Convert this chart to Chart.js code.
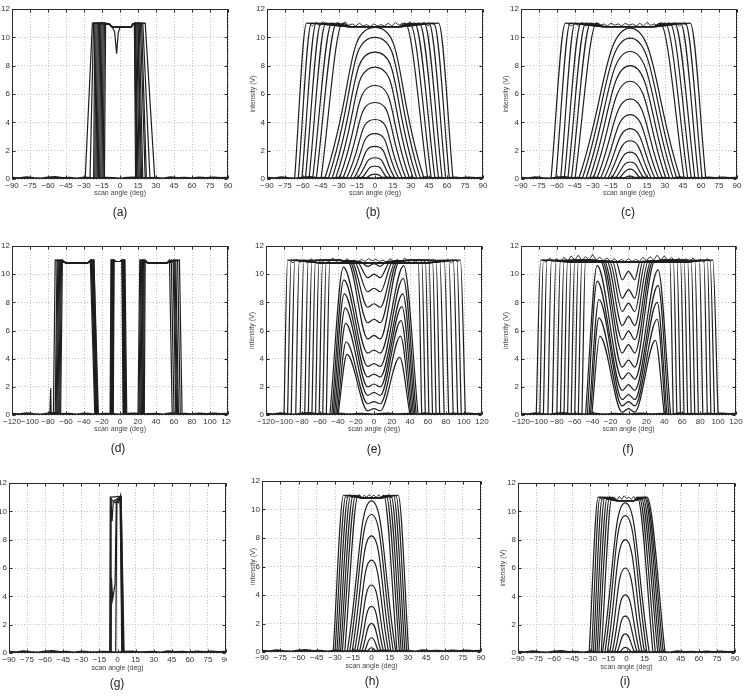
<!DOCTYPE html>
<html><head><meta charset="utf-8">
<script src="https://cdn.jsdelivr.net/npm/chart.js@4/dist/chart.umd.min.js"></script>
<style>
html,body{margin:0;padding:0;background:#fff}
body{width:744px;height:699px;overflow:hidden;position:relative;font-family:"Liberation Sans",Arial,sans-serif}
canvas{position:absolute}
.lbl{position:absolute;font-size:12px;color:#222;transform:translate(-50%,-50%);white-space:nowrap;will-change:transform;-webkit-font-smoothing:antialiased;background:#fff}
</style></head><body>
<script>
// ---------- data ----------
const SAT = 11; // saturation level (V)
const base90X  = [-90,-84,-78,-72,-66,-60,-54,-48,-42,-36,-30,-24,-18,-12,-6,0,6,12,18,24,30,36,42,48,54,60,66,72,78,84,90];
const base120X = [-120,-112,-104,-96,-88,-80,-72,-64,-56,-48,-40,-32,-24,-16,-8,0,8,16,24,32,40,48,56,64,72,80,88,96,104,112,120];
const baseY    = [0.1,0.06,0.13,0.08,0.05,0.11,0.15,0.07,0.09,0.05,0.12,0.08,0.06,0.1,0.07,0.05,0.09,0.12,0.06,0.08,0.1,0.05,0.13,0.07,0.09,0.06,0.11,0.08,0.12,0.07,0.1];

// (a)
const aFootL = [-29,-25,-22,-21,-20,-19,-18,-17,-16,-15,-14,-13];
const aTopL  = [-23,-22,-21,-20,-19,-18,-17,-16,-15,-14,-13,-12];
const aTopR  = [21,19,18,17,16,15,15,14,13,13,12,12];
const aFootR = [29,25,22,21,19,18,17,16,15,14,14,13];
const aPlatX = [-9,-6,9,11];
const aPlatY = [10.95,10.7,10.7,10.95];
const aDipX  = [-7,-4.5,-2.8,-1.5,0];
const aDipY  = [10.8,10.4,8.85,10.3,10.7];

// (b)
const bDomePeak  = [0.35,0.9,1.5,2.3,3.2,4.2,5.4,6.6,7.9,8.95,10.0,10.7];
const bDomeFootL = [-9,-12,-15,-18,-21,-24,-27,-30,-33,-36,-39,-42];
const bDomeFootR = [8,11,14,17,20,23,26,29,32,35,38,41];
const bPeakX = 0;
const bFlatFootL   = [-45,-49,-52,-55,-58,-61,-64,-67];
const bFlatCornerL = [-27,-32,-36,-41,-45,-49,-53,-57];
const bFlatCornerR = [25,29,33,37,41,45,49,53];
const bFlatFootR   = [44,47,50,53,56,59,62,65];
const bPlatX = [-20,20], bPlatY = [10.75,10.75];
const bTopX = [-55,-52,-49,-46,-43,-40,-37,-34,-31,-28,-25,-22,-19,-16,-13,-10,-7,-4,-1,2,5,8,11,14,17,20,23,26,29,32,35,38,41,44,47,50];
const bTopY = [11.0,10.8,11.05,10.8,11.1,10.85,11.0,10.8,11.05,10.8,11.1,10.85,10.95,10.8,11.0,10.8,10.9,10.75,10.95,10.8,10.9,10.8,11.0,10.8,11.05,10.85,11.0,10.8,11.1,10.8,11.0,10.85,11.05,10.8,11.0,10.85];

// (c)
const cDomePeak  = [0.2,0.7,1.2,1.9,2.7,3.55,4.55,5.65,6.9,8.0,9.0,9.95,10.65];
const cDomeFootL = [-6,-9,-12,-15,-18,-21,-24,-27,-30,-33,-36,-39,-42];
const cDomeFootR = [7,10,13,16,19,22,25,28,31,34,37,40,43];
const cPeakX = 1;
const cFlatFootL   = [-45,-48,-51,-54,-57,-61,-65];
const cFlatCornerL = [-27,-32,-36,-40,-45,-49,-53];
const cFlatCornerR = [26,30,34,38,43,47,51];
const cFlatFootR   = [46,49,52,55,58,61,64];
const cPlatX = [-20,20], cPlatY = [10.75,10.75];
const cTopX = [-51,-48,-45,-42,-39,-36,-33,-30,-27,-24,-21,-18,-15,-12,-9,-6,-3,0,3,6,9,12,15,18,21,24,27,30,33,36,39,42,45,48];
const cTopY = [10.95,10.8,11.0,10.8,11.05,10.8,11.0,10.85,11.05,10.8,10.95,10.8,11.0,10.85,10.95,10.8,11.0,10.85,10.95,10.8,11.0,10.8,11.05,10.85,10.95,10.8,11.05,10.8,11.0,10.85,11.05,10.8,11.0,10.85];

// (d)
const dP1FootL = [-74,-72,-71,-70,-69,-68,-67,-66];
const dP1TopL  = [-72,-70,-69,-68,-67,-66,-65,-64];
const dP1TopR  = [-33,-32,-32,-31,-30,-30,-29,-29];
const dP1FootR = [-28,-27,-27,-26,-26,-25,-25,-24];
const dP2FootL = [-11,-10.5,-10,-9.5,-9,-8.5,-8,-7.5];
const dP2TopL  = [-10,-9.5,-9,-8.5,-8,-7.5,-7,-6.5];
const dP2TopR  = [2,2.5,3,3.5,4,4.5,5,5.5];
const dP2FootR = [3.5,4,4.5,5,5.5,6,6.5,7.5];
const dP3FootL = [20,21,22,23,24,25,26,27];
const dP3TopL  = [22,23,24,25,25.5,26,27,28];
const dP3TopR  = [55,57,59,60,61,62,64,66];
const dP3FootR = [58,60,62,63,64,65,67,69];
const dPlat1X = [-60,-36], dPlat1Y = [10.8,10.8];
const dPlat2X = [-5,0],    dPlat2Y = [10.9,10.9];
const dPlat3X = [31,52],   dPlat3Y = [10.8,10.8];
const dSpikeX = [-78,-77,-76.5], dSpikeY = [0,1.9,0];

// (e)
const eValleyX = 7, eInnerY = 10.9;
const eMFootL  = [-40,-41,-42.5,-44,-45.5,-47,-49];
const eMPeakXL = [-30,-31,-31.5,-32,-33,-33.5,-34];
const eMPeakYL = [4.3,5.2,6.5,7.6,8.6,9.6,10.5];
const eMValley = [0.3,0.8,1.4,2.0,2.7,3.45,4.4];
const eMBump   = [0.45,0.95,1.6,2.2,2.9,3.65,4.6];
const eMPeakXR = [28.5,29.5,30,31,32,32.5,33];
const eMPeakYR = [4.1,5.6,6.7,7.7,8.6,9.7,10.6];
const eMFootR  = [40,41,42.5,44,45.5,47,49];
const eSFootL   = [-53,-57,-61,-65,-69,-73];
const eSCornerL = [-49,-53,-57,-61,-65,-69];
const eSInnerL  = [-29,-27,-25,-22,-19,-15];
const eSValley  = [5.4,6.55,7.65,8.75,9.75,10.55];
const eSBump    = [5.65,6.8,7.9,9.0,10.0,10.75];
const eSInnerR  = [28,26,24,21,18,14];
const eSCornerR = [49,53,57,61,65,69];
const eSFootR   = [53,57,61,65,69,73];
const eFFootL   = [-77,-82,-87,-92,-96,-100];
const eFCornerL = [-73,-78,-83,-88,-92,-96];
const eFCornerR = [73,78,83,88,92,96];
const eFFootR   = [78,83,88,93,97,101.5];
const ePlatX = [-60,60], ePlatY = [10.8,10.8];
const eTopX = [-94,-90,-86,-82,-78,-74,-70,-66,-62,-58,-54,-50,-46,-42,-38,-34,-30,-26,-22,-18,-14,-10,-6,-2,2,6,10,14,18,22,26,30,34,38,42,46,50,54,58,62,66,70,74,78,82,86,90,94];
const eTopY = [11.0,10.8,11.05,10.85,11.0,10.8,11.1,10.85,11.0,10.8,11.05,10.85,11.15,10.9,11.05,10.85,11.1,10.9,11.0,10.85,11.05,10.9,11.1,10.95,11.05,10.9,11.0,10.85,11.1,10.9,11.05,10.85,11.15,10.9,11.0,10.85,11.05,10.8,11.0,10.85,11.05,10.8,11.0,10.85,11.05,10.8,11.0,10.85];

// (f)
const fValleyX = 7, fInnerY = 10.9;
const fMFootL  = [-41,-42.5,-44,-46,-48];
const fMPeakXL = [-32,-33,-33,-35,-35];
const fMPeakYL = [5.6,6.9,8.2,9.5,10.6];
const fMValley = [0.2,0.65,1.1,1.75,2.55];
const fMBump   = [0.45,0.95,1.45,2.15,3.0];
const fMPeakXR = [30,32,32,33,33];
const fMPeakYR = [5.3,6.8,8.0,9.2,10.3];
const fMFootR  = [40,41.5,43,45,47];
const fSFootL   = [-52,-56,-60,-64,-68,-72,-76];
const fSCornerL = [-48,-52,-56,-60,-64,-68,-72];
const fSInnerL  = [-31,-29,-27,-24,-21,-18,-14];
const fSValley  = [3.4,4.4,5.35,6.35,7.35,8.3,9.6];
const fSBump    = [3.9,5.0,5.95,7.0,7.95,8.9,10.2];
const fSInnerR  = [29,27,25,22,19,16,13];
const fSCornerR = [46,50,54,58,62,66,70];
const fSFootR   = [50,54,58,62,66,70,74];
const fFFootL   = [-80,-85,-90,-95,-99,-103];
const fFCornerL = [-76,-81,-86,-91,-95,-98];
const fFCornerR = [74,79,84,88,91,94];
const fFFootR   = [78,83,88,92,96,100];
const fPlatX = [-60,60], fPlatY = [10.85,10.85];
const fTopX = [-96,-92,-88,-84,-80,-76,-72,-68,-64,-60,-56,-52,-48,-44,-40,-36,-32,-28,-24,-20,-16,-12,-8,-4,0,4,8,12,16,20,24,28,32,36,40,44,48,52,56,60,64,68,72,76,80,84,88,92];
const fTopY = [11.05,10.85,11.15,10.9,11.1,10.85,11.2,10.9,11.3,11.0,11.35,10.95,11.25,11.0,11.4,11.0,11.2,10.95,11.15,10.9,11.1,10.9,11.05,10.9,11.1,10.9,11.05,10.9,11.2,10.95,11.25,11.0,11.35,11.0,11.3,10.95,11.2,10.9,11.15,10.9,11.1,10.85,11.15,10.9,11.05,10.85,11.1,10.85];

// (g)
const g1X = [-6.5,-6,3,5],                 g1Y = [0,11,11.05,0];
const g2X = [-6,-5.5,-4.5,-3.5,2,4],        g2Y = [0,11,9.3,10.7,11,0];
const g3X = [-5.5,-5,-4,-2,-1,1,2.5,3.5],   g3Y = [0,5.3,3.8,4.9,10.7,10.6,11.1,0];
const g4X = [-1.5,-0.5,2.5,4.5],           g4Y = [0,10.8,11,0];
const g5X = [-6,-5.5,-2,0,3,5.5],           g5Y = [0,10.9,10.6,10.7,11,0];

// (h)
const hDomePeak  = [0.3,1.0,2.0,3.2,4.7,6.45,8.15,9.65,10.6];
const hDomeFootL = [-4,-6,-8,-10,-12,-14,-16,-18,-20];
const hDomeFootR = [4,6,8,10,12,14,16,18,20];
const hPeakX = 0;
const hFlatFootL   = [-22,-24,-25.5,-27,-28.5,-30,-31.5];
const hFlatCornerL = [-11,-13,-15,-17,-19,-21,-23];
const hFlatCornerR = [10,12,14,16,18,20,22];
const hFlatFootR   = [21,23,24.5,26,27.5,29,30.5];
const hPlatX = [-7,7], hPlatY = [10.8,10.8];
const hTopX = [-22,-20,-18,-16,-14,-12,-10,-8,-6,-4,-2,0,2,4,6,8,10,12,14,16,18,20];
const hTopY = [11.0,10.8,11.05,10.8,11.0,10.85,11.05,10.8,11.0,10.85,11.05,10.9,11.0,10.85,11.05,10.8,11.0,10.8,11.05,10.8,11.0,10.85];

// (i)
const iDomePeak  = [0.12,0.4,1.35,2.6,4.1,6.0,8.0,9.7,10.6];
const iDomeFootL = [-4,-6,-8,-10,-12,-14,-16,-18,-20];
const iDomeFootR = [3,5,7,9,11,13,15,17,19];
const iPeakX = -1;
const iFlatFootL   = [-21,-23,-24.5,-26,-27.5,-29,-31];
const iFlatCornerL = [-12,-14,-16,-18,-20,-22,-23.5];
const iFlatCornerR = [9,10.5,12,13.5,15,16,17];
const iFlatFootR   = [22,24,26,27.5,29,30.5,32];
const iPlatX = [-8,6], iPlatY = [10.75,10.75];
const iTopX = [-22,-20,-18,-16,-14,-12,-10,-8,-6,-4,-2,0,2,4,6,8,10,12,14,16];
const iTopY = [10.95,10.8,11.0,10.8,11.05,10.85,11.0,10.8,11.05,10.85,11.1,10.9,11.0,10.85,11.05,10.8,11.0,10.8,11.0,10.85];

// ---------- builders ----------
const LINE = '#1e1e1e';
function ds(data, mode, tension, w){
  return {data:data, borderColor:LINE, borderWidth:w||1.2, pointRadius:0, fill:false,
          cubicInterpolationMode:mode||'default', tension:tension||0};
}
function P(xs, ys){ return xs.map((x,i)=>({x:x, y:ys[i]})); }
function baseline(xs){ return ds(P(xs, baseY), 'default', 0, 1.8); }
function noise(xs, ys){ return ds(P(xs, ys), 'default', 0, 0.9); }
function domeSet(fl, fr, peaks, px, t){
  return peaks.map((h,i)=>ds([{x:fl[i],y:0},{x:px,y:h},{x:fr[i],y:0}], 'default', t));
}
function flatPts(fl, cl, cr, fr, platX, platY){
  const p=[{x:fl,y:0},{x:cl,y:SAT}];
  platX.forEach((x,j)=>{ if(x>cl && x<cr) p.push({x:x,y:platY[j]}); });
  p.push({x:cr,y:SAT},{x:fr,y:0});
  return p;
}
function flatSet(fl, cl, cr, fr, platX, platY, mode){
  return fl.map((f,i)=>ds(flatPts(f,cl[i],cr[i],fr[i],platX,platY), mode, 0));
}
function mSet(fl,pxl,pyl,val,bump,pxr,pyr,fr,vx){
  return fl.map((f,i)=>ds([{x:f,y:0},{x:pxl[i],y:pyl[i]},{x:-vx,y:val[i]},{x:0,y:bump[i]},
    {x:vx,y:val[i]},{x:pxr[i],y:pyr[i]},{x:fr[i],y:0}], 'monotone'));
}
function sSet(fl,cl,il,val,bump,ir,cr,fr,vx,iy){
  return fl.map((f,i)=>ds([{x:f,y:0},{x:cl[i],y:SAT},{x:il[i],y:iy},{x:-vx,y:val[i]},{x:0,y:bump[i]},
    {x:vx,y:val[i]},{x:ir[i],y:iy},{x:cr[i],y:SAT},{x:fr[i],y:0}], 'monotone'));
}

const dataA = [baseline(base90X)]
  .concat(flatSet(aFootL,aTopL,aTopR,aFootR,aPlatX,aPlatY,'default'))
  .concat([ds(P(aDipX,aDipY),'default',0)]);
const dataB = [baseline(base90X), noise(bTopX,bTopY)]
  .concat(domeSet(bDomeFootL,bDomeFootR,bDomePeak,bPeakX,0.6))
  .concat(flatSet(bFlatFootL,bFlatCornerL,bFlatCornerR,bFlatFootR,bPlatX,bPlatY,'monotone'));
const dataC = [baseline(base90X), noise(cTopX,cTopY)]
  .concat(domeSet(cDomeFootL,cDomeFootR,cDomePeak,cPeakX,0.5))
  .concat(flatSet(cFlatFootL,cFlatCornerL,cFlatCornerR,cFlatFootR,cPlatX,cPlatY,'monotone'));
const dataD = [baseline(base120X), ds(P(dSpikeX,dSpikeY),'default',0)]
  .concat(dP1FootL.map((_,i)=>ds(
     flatPts(dP1FootL[i],dP1TopL[i],dP1TopR[i],dP1FootR[i],dPlat1X,dPlat1Y)
     .concat(flatPts(dP2FootL[i],dP2TopL[i],dP2TopR[i],dP2FootR[i],dPlat2X,dPlat2Y))
     .concat(flatPts(dP3FootL[i],dP3TopL[i],dP3TopR[i],dP3FootR[i],dPlat3X,dPlat3Y)),'default',0)));
const dataE = [baseline(base120X), noise(eTopX,eTopY)]
  .concat(mSet(eMFootL,eMPeakXL,eMPeakYL,eMValley,eMBump,eMPeakXR,eMPeakYR,eMFootR,eValleyX))
  .concat(sSet(eSFootL,eSCornerL,eSInnerL,eSValley,eSBump,eSInnerR,eSCornerR,eSFootR,eValleyX,eInnerY))
  .concat(flatSet(eFFootL,eFCornerL,eFCornerR,eFFootR,ePlatX,ePlatY,'monotone'));
const dataF = [baseline(base120X), noise(fTopX,fTopY)]
  .concat(mSet(fMFootL,fMPeakXL,fMPeakYL,fMValley,fMBump,fMPeakXR,fMPeakYR,fMFootR,fValleyX))
  .concat(sSet(fSFootL,fSCornerL,fSInnerL,fSValley,fSBump,fSInnerR,fSCornerR,fSFootR,fValleyX,fInnerY))
  .concat(flatSet(fFFootL,fFCornerL,fFCornerR,fFFootR,fPlatX,fPlatY,'monotone'));
const dataG = [baseline(base90X), ds(P(g1X,g1Y)), ds(P(g2X,g2Y)), ds(P(g3X,g3Y)), ds(P(g4X,g4Y)), ds(P(g5X,g5Y))];
const dataH = [baseline(base90X), noise(hTopX,hTopY)]
  .concat(domeSet(hDomeFootL,hDomeFootR,hDomePeak,hPeakX,0.5))
  .concat(flatSet(hFlatFootL,hFlatCornerL,hFlatCornerR,hFlatFootR,hPlatX,hPlatY,'monotone'));
const dataI = [baseline(base90X), noise(iTopX,iTopY)]
  .concat(domeSet(iDomeFootL,iDomeFootR,iDomePeak,iPeakX,0.5))
  .concat(flatSet(iFlatFootL,iFlatCornerL,iFlatCornerR,iFlatFootR,iPlatX,iPlatY,'monotone'));

// ---------- layout ----------
const panels = [
 {lab:'(a)', data:dataA, L:12, T:9,   R:228, B:179, rng:90,  PR:10, ytx:-4,    lx:120, ly:212, tp:2.2, dT:14},
 {lab:'(b)', data:dataB, L:267,T:9,   R:483, B:179, rng:90,  PR:10, ytx:253.5, lx:373, ly:212, tp:2.2, dT:14},
 {lab:'(c)', data:dataC, L:521,T:9,   R:737, B:179, rng:90,  PR:7,  ytx:505.7, lx:628, ly:212, tp:2.2, dT:14},
 {lab:'(d)', data:dataD, L:12, T:246, R:228, B:415, rng:120, PR:3,  ytx:-4,    lx:118, ly:448, tp:2.2, dT:14},
 {lab:'(e)', data:dataE, L:266,T:246, R:482, B:415, rng:120, PR:10, ytx:252,   lx:374, ly:449, tp:2.2, dT:14},
 {lab:'(f)', data:dataF, L:521,T:246, R:736, B:415, rng:120, PR:8,  ytx:505.7, lx:628, ly:449, tp:2.2, dT:14},
 {lab:'(g)', data:dataG, L:9,  T:483, R:226, B:653, rng:90,  PR:1,  ytx:-6,    lx:117, ly:683, tp:2.2, dT:15},
 {lab:'(h)', data:dataH, L:262,T:481, R:481, B:652, rng:90,  PR:10, ytx:253,   lx:372, ly:681, tp:1.0, dT:14},
 {lab:'(i)', data:dataI, L:518,T:483, R:735, B:653, rng:90,  PR:9,  ytx:502.7, lx:625, ly:681, tp:1.2, dT:14}
];

const boxPlugin = {
  id:'box',
  afterDatasetsDraw(c){
    const a=c.chartArea, ctx=c.ctx, xs=c.scales.x, ys=c.scales.y;
    ctx.save();
    ctx.strokeStyle='#2a2a2a'; ctx.lineWidth=1;
    const l=Math.round(a.left)+0.5, r=Math.round(a.right)-0.5, t=Math.round(a.top)+0.5, b=Math.round(a.bottom)-0.5;
    ctx.strokeRect(l,t,r-l,b-t);
    ctx.beginPath();
    xs.ticks.forEach(tk=>{const px=Math.round(xs.getPixelForValue(tk.value))+0.5;
      ctx.moveTo(px,b); ctx.lineTo(px,b-3); ctx.moveTo(px,t); ctx.lineTo(px,t+3);});
    ys.ticks.forEach(tk=>{const py=Math.round(ys.getPixelForValue(tk.value))+0.5;
      ctx.moveTo(l,py); ctx.lineTo(l+3,py); ctx.moveTo(r,py); ctx.lineTo(r-3,py);});
    ctx.stroke();
    ctx.restore();
  }
};

const FONT = "'Liberation Sans', Arial, sans-serif";
const minus = v => (v<0 ? '\u2212' : '') + Math.abs(v);
const YW=30, PT=6, XH=24;

panels.forEach(p=>{
  const c=document.createElement('canvas');
  const w=(p.R-p.L)+YW+p.PR, h=(p.B-p.T)+PT+XH;
  c.width=w; c.height=h;
  c.style.width=w+'px'; c.style.height=h+'px';
  c.style.left=(p.L-YW)+'px'; c.style.top=(p.T-PT)+'px';
  document.body.appendChild(c);
  const titlePadY = p.ytx - (p.L-YW) - 4.2;
  const titlePadX = XH - 4.2 - p.dT;
  new Chart(c,{
    type:'line',
    data:{datasets:p.data},
    options:{
      responsive:false, animation:false, devicePixelRatio:1,
      layout:{padding:{left:0,top:PT,right:p.PR,bottom:0}, autoPadding:false},
      plugins:{legend:{display:false}, tooltip:{enabled:false}},
      elements:{point:{radius:0}},
      scales:{
        x:{type:'linear', min:-p.rng, max:p.rng,
           afterFit(s){ s.height=XH; s.paddingLeft=0; s.paddingRight=0; },
           ticks:{stepSize:p.rng===90?15:20, autoSkip:false, maxRotation:0, padding:p.tp,
                  font:{family:FONT,size:8}, color:'#333', callback:minus},
           grid:{color:'#c2c2c2', drawTicks:false, lineWidth:1},
           border:{display:false, dash:[1,2]},
           title:{display:true, text:'scan angle (deg)', color:'#444', font:{family:FONT,size:7},
                  padding:{top:0,bottom:titlePadX}}},
        y:{type:'linear', min:0, max:12,
           afterFit(s){ s.width=YW; s.paddingTop=0; s.paddingBottom=0; },
           ticks:{stepSize:2, padding:2, font:{family:FONT,size:8}, color:'#333'},
           grid:{color:'#c2c2c2', drawTicks:false, lineWidth:1},
           border:{display:false, dash:[1,2]},
           title:{display:true, text:'intensity (V)', color:'#444', font:{family:FONT,size:7},
                  padding:{top:titlePadY,bottom:0}}}
      }
    },
    plugins:[boxPlugin]
  });
  const d=document.createElement('div');
  d.className='lbl'; d.textContent=p.lab;
  d.style.left=p.lx+'px'; d.style.top=p.ly+'px';
  document.body.appendChild(d);
});
</script>
</body></html>
